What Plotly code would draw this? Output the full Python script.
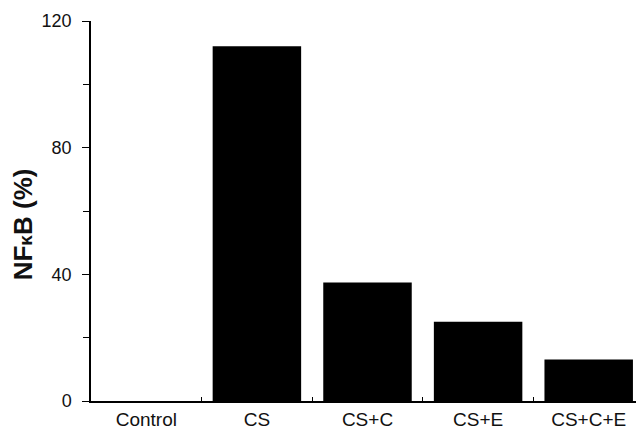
import plotly.graph_objects as go

categories = ["Control", "CS", "CS+C", "CS+E", "CS+C+E"]
values = [0, 112, 37.4, 25, 13.1]
y_ticks = [0, 40, 80, 120]
y_title = "NF<span style='font-size:19px'>κ</span>B (%)"

x_font = dict(family="Liberation Sans, Arial, sans-serif", size=19, color="#111")
y_font = dict(family="Liberation Sans, Arial, sans-serif", size=18, color="#111")

fig = go.Figure(go.Bar(
    x=categories, y=values, width=0.8,
    marker=dict(color="#000", line=dict(width=0)),
))

# page body has an 8px margin, so the figure is offset by (8, 8)
fig.update_layout(
    width=636, height=422,
    margin=dict(l=83, r=0, t=13, b=29),
    paper_bgcolor="white", plot_bgcolor="white",
    showlegend=False,
    bargap=0.2,
)
fig.update_xaxes(
    range=[-0.5, 4.5], showline=True, linecolor="#000", linewidth=1.5,
    ticks="inside", ticklen=4, tickcolor="#000", tickson="boundaries",
    tickfont=x_font, showgrid=False, zeroline=False, automargin=False,
)
fig.update_yaxes(
    range=[0, 120], tickvals=y_ticks, showline=True, linecolor="#000", linewidth=1.5,
    ticks="outside", ticklen=7, tickcolor="#000", tickwidth=1,
    minor=dict(dtick=20, tick0=0, ticks="outside", ticklen=6, tickcolor="#000", showgrid=False),
    tickfont=y_font, ticklabelstandoff=7,
    showgrid=False, zeroline=False, automargin=False,
)
fig.add_annotation(
    text=y_title, textangle=-90, showarrow=False,
    xref="paper", x=0, xanchor="center", xshift=-68,
    yref="paper", y=0.465, yanchor="middle",
    font=dict(family="Liberation Sans, Arial, sans-serif", size=26, color="#111", weight="bold"),
)

fig.write_html("out.html")
